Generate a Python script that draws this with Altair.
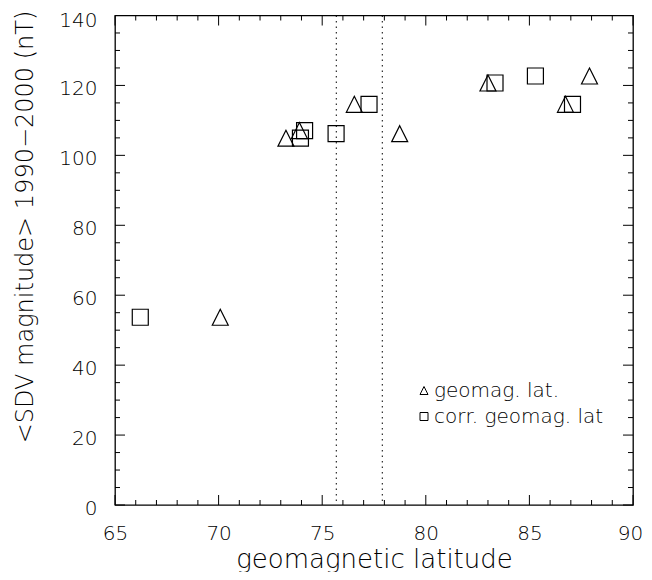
import altair as alt
import pandas as pd

# ---- data ----
sdv = [53.7, 104.9, 107.1, 106.2, 114.6, 120.7, 122.7, 114.6]
geomag_lat = [70.08, 73.25, 73.90, 78.74, 76.55, 83.00, 87.90, 86.74]
corr_geomag_lat = [66.22, 73.95, 74.15, 75.67, 77.26, 83.34, 85.29, 87.08]
series_names = ["geomag. lat.", "corr. geomag. lat"]
boundary_lats = [75.68, 77.90]

x_major = [65, 70, 75, 80, 85, 90]
x_minor = [v for v in range(65, 91) if v % 5 != 0]
y_major = [0, 20, 40, 60, 80, 100, 120, 140]
y_minor = [v for v in range(0, 141, 5) if v % 20 != 0]

W, H = 518, 489.5
FONT = "DejaVu Sans"
WEIGHT = 200
TRI = "M0,-1L1,1L-1,1Z"
SQ = "M-1,-1L1,-1L1,1L-1,1Z"

pts = pd.DataFrame({
    "lat": geomag_lat + corr_geomag_lat,
    "sdv": sdv + sdv,
    "series": [series_names[0]] * len(sdv) + [series_names[1]] * len(sdv),
})

xs = alt.Scale(domain=[65, 90], nice=False, zero=False)
ys = alt.Scale(domain=[0, 140], nice=False, zero=False)

points = alt.Chart(pts).mark_point(
    filled=False, stroke="black", strokeWidth=1.2, size=256, opacity=1
).encode(
    x=alt.X("lat:Q", scale=xs, axis=alt.Axis(
        values=x_major, ticks=False, domain=False, grid=False,
        labelFont=FONT, labelFontSize=20, labelFontWeight=WEIGHT, labelColor="black",
        labelPadding=18, labelFlush=False, labelOverlap=False,
        labelOffset=alt.condition("datum.value == 90", alt.value(-3), alt.value(0)),
        title="geomagnetic latitude", titleFont=FONT, titleFontSize=26,
        titleFontWeight=WEIGHT, titleColor="black",
        titleBaseline="alphabetic", titleY=62)),
    y=alt.Y("sdv:Q", scale=ys, axis=alt.Axis(
        values=y_major, ticks=False, domain=False, grid=False,
        labelFont=FONT, labelFontSize=20, labelFontWeight=WEIGHT, labelColor="black",
        labelPadding=18, labelFlush=False, labelOverlap=False,
        labelOffset=alt.condition("datum.value == 140", alt.value(5), alt.value(3)),
        title="<SDV magnitude> 1990\u22122000  (nT)", titleFont=FONT,
        titleFontSize=24, titleFontWeight=WEIGHT, titleColor="black",
        titleAngle=270, titleAlign="center", titleBaseline="middle",
        titleX=-90, titleY=211)),
    shape=alt.Shape("series:N", scale=alt.Scale(domain=series_names, range=[TRI, SQ]),
                    legend=alt.Legend(
                        title=None, orient="none", legendX=299, legendY=365,
                        symbolSize=64, symbolStrokeColor="black", symbolFillColor="transparent",
                        symbolStrokeWidth=1, labelFont=FONT, labelFontSize=20,
                        labelFontWeight=WEIGHT, labelLimit=400,
                        labelColor="black", rowPadding=6, labelOffset=0, padding=0)),
)

vlines = alt.Chart(pd.DataFrame({"lat": boundary_lats})).mark_rule(
    color="black", strokeWidth=1, strokeDash=[1.5, 4]
).encode(x=alt.X("lat:Q", scale=xs), y=alt.value(0), y2=alt.value(H))


def xticks(vals, length):
    d = pd.DataFrame({"v": vals})
    bottom = alt.Chart(d).mark_rule(color="black", strokeWidth=1).encode(
        x=alt.X("v:Q", scale=xs), y=alt.value(H), y2=alt.value(H - length))
    top = alt.Chart(d).mark_rule(color="black", strokeWidth=1).encode(
        x=alt.X("v:Q", scale=xs), y=alt.value(0), y2=alt.value(length))
    return [bottom, top]


def yticks(vals, length):
    d = pd.DataFrame({"v": vals})
    left = alt.Chart(d).mark_rule(color="black", strokeWidth=1).encode(
        y=alt.Y("v:Q", scale=ys), x=alt.value(0), x2=alt.value(length))
    right = alt.Chart(d).mark_rule(color="black", strokeWidth=1).encode(
        y=alt.Y("v:Q", scale=ys), x=alt.value(W), x2=alt.value(W - length))
    return [left, right]


layers = [vlines] + xticks(x_major, 10) + xticks(x_minor, 5) + yticks(y_major, 10) + yticks(y_minor, 5) + [points]

chart = alt.layer(*layers).properties(
    width=W, height=H,
    autosize=alt.AutoSizeParams(type="none"),
    padding={"left": 107, "top": 7.5, "right": 11, "bottom": 67},
    background="white",
).configure_view(stroke="black", strokeWidth=1.3)

chart.save("out.html", embed_options={"renderer": "svg", "actions": False})
